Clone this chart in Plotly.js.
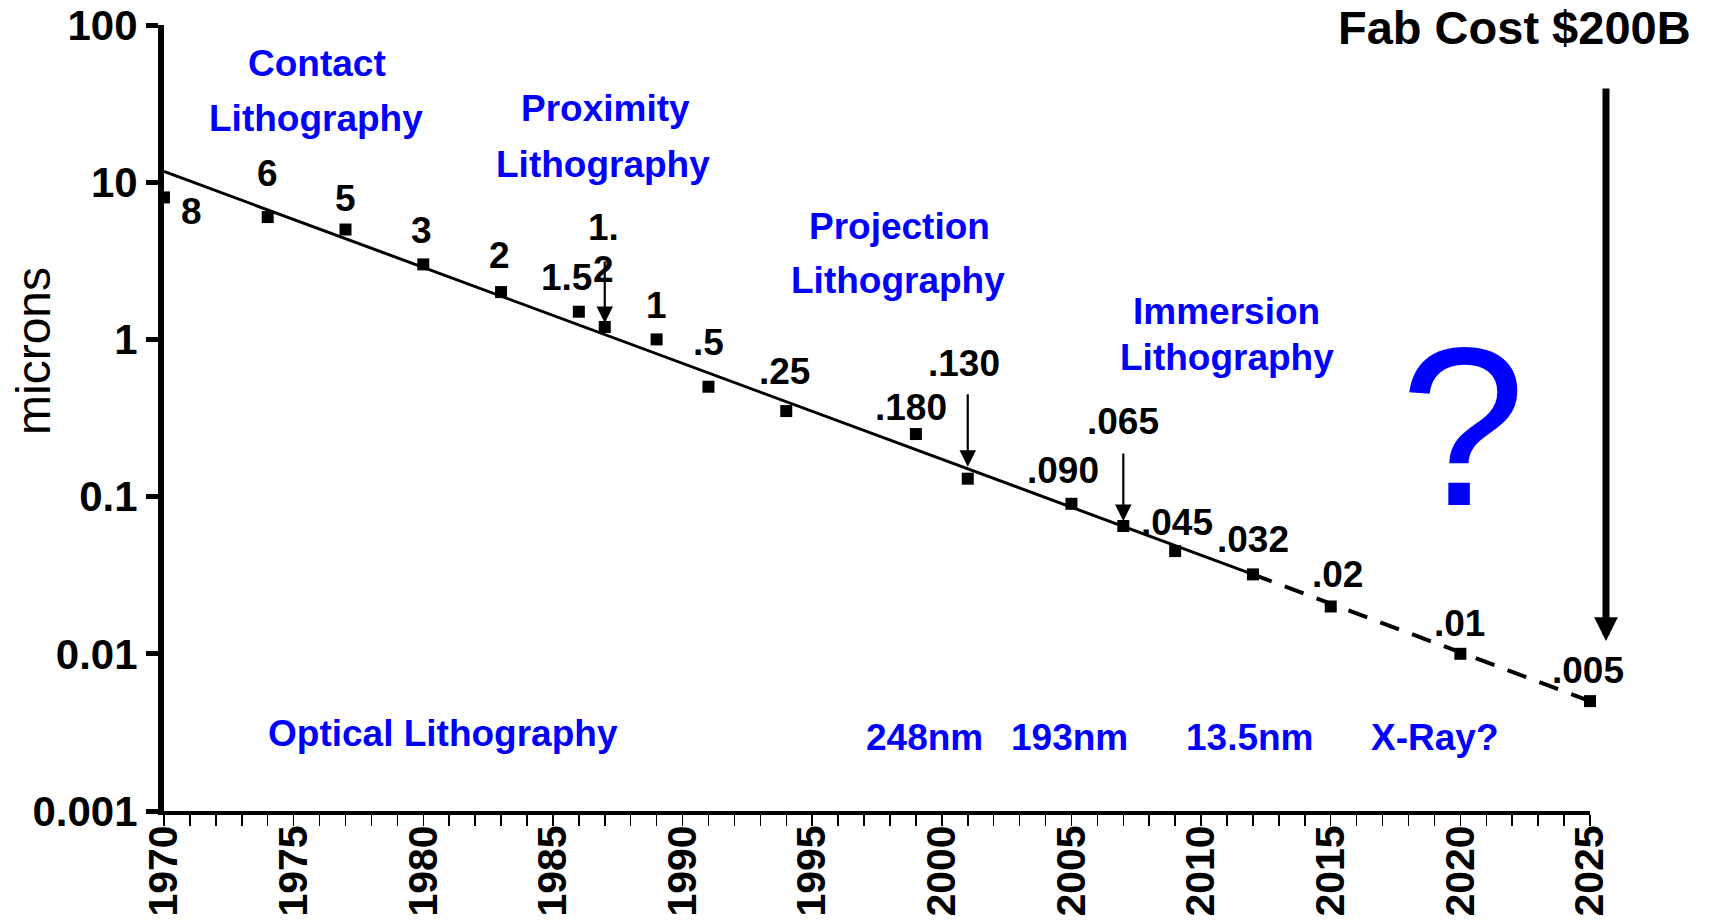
<!DOCTYPE html>
<html><head><meta charset="utf-8">
<script src="https://cdn.plot.ly/plotly-3.0.1.min.js"></script>
<style>html,body{margin:0;padding:0;background:#fff;}#chart{width:1710px;height:924px;}</style>
</head><body><div id="chart"></div>
<script>
// ---- data ----
const markerYears  = [1970,1974,1977,1980,1983,1986,1987,1989,1991,1994,1999,2001,2005,2007,2009,2012,2015,2020,2025];
const markerValues = [8,6,5,3,2,1.5,1.2,1.0,0.5,0.35,0.25,0.13,0.09,0.065,0.045,0.032,0.02,0.01,0.005];
const pointLabels  = ['8','6','5','3','2','1.5','1.<br>2','1','.5','.25','.180','.130','.090','.065','.045','.032','.02','.01','.005'];
const trendYears   = [1970, 2012];
const trendValues  = [11.7, 0.032];
const projYears    = [2012, 2025];
const projValues   = [0.032, 0.005];
const yTickValues  = [0.001, 0.01, 0.1, 1, 10, 100];
const yTickLabels  = ['0.001','0.01','0.1','1','10','100'];
const xTickYears   = [1970,1975,1980,1985,1990,1995,2000,2005,2010,2015,2020,2025];
const xTickLabels  = ['1970','1975','1980','1985','1990','1995','2000','2005','2010','2015','2020','2025'];
const arrowPoints  = ['1.<br>2','.130','.065'];
const regionTexts  = ['Contact','Lithography','Proximity','Lithography','Projection','Lithography','Immersion','Lithography','Optical Lithography','248nm','193nm','13.5nm','X-Ray?'];
const costText     = 'Fab Cost $200B';

// ---- layout config (pixel offsets / positions) ----
const labelOffsets = [[27,14],[0,-44],[0,-31],[-2,-34],[-2,-37],[-12,-34],[-1,-78],[0,-34],[0,-44],[-2,-40],[-5,-27],[-4,-115],[-8,-33],[0,-105],[2,-29],[0,-35],[7,-32],[-1,-30],[-2,-31]];
const arrowStyle = {'1.<br>2':{tail:-67, stand:4}, '.130':{tail:-86, stand:12}, '.065':{tail:-74, stand:5}};
const regionPos = [[317,63],[316,118],[605,109],[603,164],[899,226],[898,280],[1226,312],[1227,357],[443,733],[924,737],[1069,737],[1250,737],[1434,737]];

const L = 164, R = 120, T = 25, B = 113, W = 1710, H = 924;
const PW = W - L - R, PH = H - T - B;
const px = x => (x - L) / PW;
const py = y => (T + PH - y) / PH;

const FONT = 'Liberation Sans, Arial, Helvetica, sans-serif';
const BLUE = '#0000ff';

const annotations = [];
pointLabels.forEach((t, i) => {
  const lines = t.split('<br>');
  const [dx, dy] = labelOffsets[i];
  const gap = 42;
  lines.forEach((ln, k) => {
    const off = dy + (k - (lines.length - 1) / 2) * gap;
    annotations.push({
      x: markerYears[i], y: Math.log10(markerValues[i]), xref: 'x', yref: 'y',
      text: ln, showarrow: false, xshift: dx, yshift: -off,
      xanchor: 'center', yanchor: 'middle',
      font: {family: FONT, size: 37, color: '#000', weight: 'bold'}
    });
  });
  if (arrowPoints.includes(t)) {
    const s = arrowStyle[t];
    annotations.push({
      x: markerYears[i], y: Math.log10(markerValues[i]), xref: 'x', yref: 'y',
      text: '', showarrow: true, ax: 0, ay: s.tail, standoff: s.stand,
      arrowhead: 2, arrowsize: 1.5, arrowwidth: 2.2, arrowcolor: '#000'
    });
  }
});
regionTexts.forEach((t, i) => {
  annotations.push({
    x: px(regionPos[i][0]), y: py(regionPos[i][1]), xref: 'paper', yref: 'paper',
    text: t, showarrow: false, xanchor: 'center', yanchor: 'middle',
    font: {family: FONT, size: 37, color: BLUE, weight: 'bold'}
  });
});
annotations.push({
  x: px(1463), y: py(426), xref: 'paper', yref: 'paper', text: '?', showarrow: false,
  xanchor: 'center', yanchor: 'middle', font: {family: FONT, size: 226, color: BLUE, weight: 'normal'}
});
annotations.push({
  x: px(1514), y: py(28), xref: 'paper', yref: 'paper', text: costText, showarrow: false,
  xanchor: 'center', yanchor: 'middle', font: {family: FONT, size: 47, color: '#000', weight: 'bold'}
});
annotations.push({
  x: px(1606), y: py(641), xref: 'paper', yref: 'paper', text: '', showarrow: true,
  ax: 0, ay: 87 - 641, arrowhead: 2, arrowsize: 0.68, arrowwidth: 7, arrowcolor: '#000', standoff: 0
});
annotations.push({
  x: px(33), y: py(351), xref: 'paper', yref: 'paper', text: 'microns', showarrow: false,
  textangle: -90, xanchor: 'center', yanchor: 'middle',
  font: {family: FONT, size: 48, color: '#000'}
});

const traces = [
  {x: trendYears, y: trendValues, mode: 'lines', line: {color: '#000', width: 3}, hoverinfo: 'skip', cliponaxis: false},
  {x: projYears, y: projValues, mode: 'lines', line: {color: '#000', width: 4, dash: '20px,14px'}, hoverinfo: 'skip', cliponaxis: false},
  {x: markerYears, y: markerValues, mode: 'markers', marker: {symbol: 'square', size: 12, color: '#000'}, cliponaxis: false}
];

const layout = {
  width: W, height: H, showlegend: false,
  margin: {l: L, r: R, t: T, b: B, pad: 0},
  paper_bgcolor: '#fff', plot_bgcolor: '#fff',
  font: {family: FONT, color: '#000'},
  xaxis: {
    type: 'linear', range: [1970, 2025], automargin: false,
    showline: true, linecolor: '#000', linewidth: 4, mirror: false,
    tickmode: 'array', tickvals: xTickYears, ticktext: xTickLabels,
    ticks: 'outside', ticklen: 11, tickwidth: 1.5, tickcolor: '#000',
    minor: {tickmode: 'linear', tick0: 1970, dtick: 1, ticks: 'outside', ticklen: 11, tickwidth: 1.5, tickcolor: '#000'},
    tickangle: -90, ticklabelstandoff: -17,
    tickfont: {family: FONT, size: 41, color: '#000', weight: 'bold'},
    showgrid: false, zeroline: false, fixedrange: true
  },
  yaxis: {
    type: 'log', range: [-3, 2], automargin: false,
    showline: true, linecolor: '#000', linewidth: 6,
    tickmode: 'array', tickvals: yTickValues, ticktext: yTickLabels,
    ticks: 'outside', ticklen: 12, tickwidth: 5, tickcolor: '#000',
    tickfont: {family: FONT, size: 42, color: '#000', weight: 'bold'},
    showgrid: false, zeroline: false, fixedrange: true
  },
  annotations: annotations
};

Plotly.newPlot('chart', traces, layout, {staticPlot: true, displayModeBar: false});
</script>
</body></html>
